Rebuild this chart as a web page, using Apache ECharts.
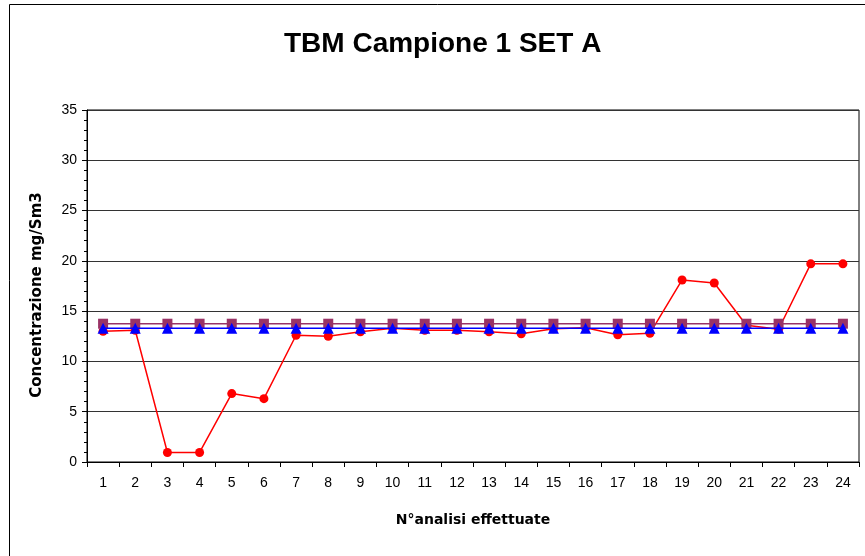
<!DOCTYPE html>
<html>
<head>
<meta charset="utf-8">
<script src="https://cdn.jsdelivr.net/npm/echarts@6/dist/echarts.min.js"></script>
<style>html,body{margin:0;padding:0;background:#fff}#c{width:865px;height:556px}</style>
</head>
<body>
<div id="c"></div>
<script>
var categories = ['1','2','3','4','5','6','7','8','9','10','11','12','13','14','15','16','17','18','19','20','21','22','23','24'];
var misure = [13.0,13.1,0.95,0.95,6.8,6.3,12.6,12.5,12.95,13.3,13.1,13.1,12.95,12.75,13.25,13.35,12.65,12.8,18.1,17.8,13.6,13.2,19.7,19.7];
var limiteA = [13.75,13.75,13.75,13.75,13.75,13.75,13.75,13.75,13.75,13.75,13.75,13.75,13.75,13.75,13.75,13.75,13.75,13.75,13.75,13.75,13.75,13.75,13.75,13.75];
var limiteB = [13.3,13.3,13.3,13.3,13.3,13.3,13.3,13.3,13.3,13.3,13.3,13.3,13.3,13.3,13.3,13.3,13.3,13.3,13.3,13.3,13.3,13.3,13.3,13.3];

var chart = echarts.init(document.getElementById('c'), null, {renderer:'canvas'});
var F = 'Liberation Sans, Arial, sans-serif';
var FN = 'DejaVu Sans, sans-serif';
chart.setOption({
  animation:false,
  backgroundColor:'#fff',
  title:{text:'TBM Campione 1 SET A',left:279,top:25,textStyle:{fontFamily:F,fontSize:28,fontWeight:'bold',color:'#000'}},
  graphic:[{type:'rect',shape:{x:9.5,y:4.5,width:1000,height:1000},style:{fill:'none',stroke:'#000',lineWidth:1},silent:true,z:-1}],
  grid:{left:87,top:110,right:6,bottom:94,show:true,borderColor:'#000',borderWidth:1,backgroundColor:'transparent'},
  xAxis:{type:'category',data:categories,boundaryGap:true,
    name:'N°analisi effettuate',nameLocation:'middle',nameGap:51,
    nameTextStyle:{fontFamily:FN,fontSize:14,fontWeight:'bold',color:'#000'},
    axisLine:{lineStyle:{color:'#000',width:1}},
    axisTick:{show:true,inside:false,length:5,alignWithLabel:false,lineStyle:{color:'#000'}},
    axisLabel:{fontFamily:F,fontSize:14,color:'#000',margin:14,interval:0},
    splitLine:{show:false}},
  yAxis:{type:'value',min:0,max:35,interval:5,
    name:'Concentrazione mg/Sm3',nameLocation:'middle',nameGap:42,
    nameTextStyle:{fontFamily:FN,fontSize:15,fontWeight:'bold',color:'#000',padding:[0,18,0,0]},
    axisLine:{show:true,lineStyle:{color:'#000',width:1}},
    axisTick:{show:true,length:5,lineStyle:{color:'#000'}},
    minorTick:{show:true,splitNumber:5,length:3,lineStyle:{color:'#000'}},
    axisLabel:{fontFamily:F,fontSize:14,color:'#000',margin:10},
    splitLine:{show:true,lineStyle:{color:'#333',width:1}}},
  series:[
    {type:'line',data:misure,symbol:'circle',symbolSize:9,itemStyle:{color:'#FF0000'},lineStyle:{color:'#FF0000',width:1.5},z:2},
    {type:'line',data:limiteA,symbol:'rect',symbolSize:10,itemStyle:{color:'#993366'},lineStyle:{color:'#993366',width:1.5},z:3},
    {type:'line',data:limiteB,symbol:'triangle',symbolSize:11,itemStyle:{color:'#0000FF'},lineStyle:{color:'#0000FF',width:1.5},z:4}
  ]
});
</script>
</body>
</html>
